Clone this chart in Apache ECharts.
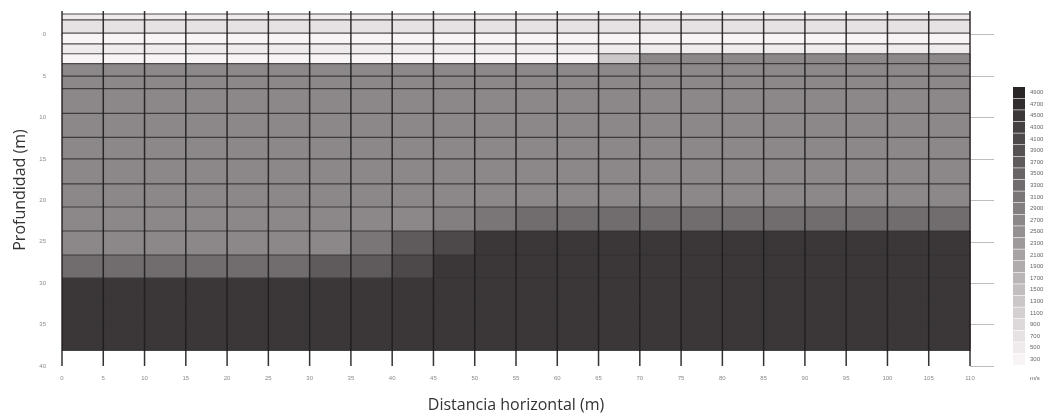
<!DOCTYPE html>
<html>
<head>
<meta charset="utf-8">
<script src="https://cdn.jsdelivr.net/npm/echarts@6/dist/echarts.min.js"></script>
<style>
html,body{margin:0;padding:0;background:#fff;}
#c{width:1057px;height:418px;}
</style>
</head>
<body>
<div id="c"></div>
<script>
// ---- data ----
const xTicks = [0,5,10,15,20,25,30,35,40,45,50,55,60,65,70,75,80,85,90,95,100,105,110];
const depthLines = [-2.5,-1.8,-0.2,1.1,2.3,3.5,5,6.5,9.5,12.4,15,18,20.8,23.7,26.6,29.4,32.3,35.2,38.1];
const yTickValues = [0,5,10,15,20,25,30,35,40];
const velocityClasses = [300,500,700,900,1100,1300,1500,1700,1900,2100,2300,2500,2700,2900,3100,3300,3500,3700,3900,4100,4300,4500,4700,4900];
const depthTop = -2.5, depthBottom = 40;

// velocity (m/s) per model cell, one array per row (top to bottom), 22 columns each
const row01 = [500,500,500,500,500,500,500,500,500,500,500,500,500,500,500,500,500,500,500,500,500,500];
const row02 = [700,700,700,700,700,700,700,700,700,700,700,700,700,700,700,700,700,700,700,700,700,700];
const row03 = [300,300,300,300,300,300,300,300,300,300,300,300,300,300,300,300,300,300,300,300,300,300];
const row04 = [500,500,500,500,500,500,500,500,500,500,500,500,500,500,500,500,500,500,500,500,500,500];
const row05 = [300,300,300,300,300,300,300,300,300,300,300,300,300,1300,2700,2700,2700,2700,2700,2700,2700,2700];
const row06 = [2700,2700,2700,2700,2700,2700,2700,2700,2700,2700,2700,2700,2700,2700,2700,2700,2700,2700,2700,2700,2700,2700];
const row07 = [2700,2700,2700,2700,2700,2700,2700,2700,2700,2700,2700,2700,2700,2700,2700,2700,2700,2700,2700,2700,2700,2700];
const row08 = [2700,2700,2700,2700,2700,2700,2700,2700,2700,2700,2700,2700,2700,2700,2700,2700,2700,2700,2700,2700,2700,2700];
const row09 = [2700,2700,2700,2700,2700,2700,2700,2700,2700,2700,2700,2700,2700,2700,2700,2700,2700,2700,2700,2700,2700,2700];
const row10 = [2700,2700,2700,2700,2700,2700,2700,2700,2700,2700,2700,2700,2700,2700,2700,2700,2700,2700,2700,2700,2700,2700];
const row11 = [2700,2700,2700,2700,2700,2700,2700,2700,2700,2700,2700,2700,2700,2700,2700,2700,2700,2700,2700,2700,2700,2700];
const row12 = [2700,2700,2700,2700,2700,2700,2700,2700,2700,2700,2700,2700,2700,2700,2700,2700,2700,2700,2700,2700,2700,2700];
const row13 = [2700,2700,2700,2700,2700,2700,2700,2700,2700,2900,3100,3300,3300,3300,3300,3300,3300,3300,3300,3300,3300,3300];
const row14 = [2700,2700,2700,2700,2700,2700,2700,3100,3700,4100,4500,4500,4500,4500,4500,4500,4500,4500,4500,4500,4500,4500];
const row15 = [3300,3300,3300,3300,3300,3300,3700,3700,4100,4500,4500,4500,4500,4500,4500,4500,4500,4500,4500,4500,4500,4500];
const row16 = [4500,4500,4500,4500,4500,4500,4500,4500,4500,4500,4500,4500,4500,4500,4500,4500,4500,4500,4500,4500,4500,4500];
const row17 = [4500,4500,4500,4500,4500,4500,4500,4500,4500,4500,4500,4500,4500,4500,4500,4500,4500,4500,4500,4500,4500,4500];
const row18 = [4500,4500,4500,4500,4500,4500,4500,4500,4500,4500,4500,4500,4500,4500,4500,4500,4500,4500,4500,4500,4500,4500];
const velocityRows = [row01,row02,row03,row04,row05,row06,row07,row08,row09,row10,row11,row12,row13,row14,row15,row16,row17,row18];

// ---- build ----
const cells = [];
velocityRows.forEach((row, r) => {
  row.forEach((v, c) => {
    cells.push([xTicks[c], xTicks[c+1], depthLines[r], depthLines[r+1], v]);
  });
});
const hLines = depthLines.map(d => [xTicks[0], xTicks[xTicks.length-1], d]);
const vLines = xTicks.map(x => [x, depthTop, depthBottom]);

function grey(i, n) {
  const L = Math.round(248 - i * (207 / (n - 1)));
  return 'rgb(' + L + ',' + (L - 4) + ',' + (L - 2) + ')';
}
const pieces = velocityClasses.map((v, i) => ({
  min: v - 100, max: v + 100, label: String(v), color: grey(i, velocityClasses.length)
}));

const chart = echarts.init(document.getElementById('c'), null, {renderer: 'canvas'});
chart.setOption({
  animation: false,
  backgroundColor: '#ffffff',
  grid: {left: 62, right: 87, top: 14, bottom: 52},
  xAxis: {
    type: 'value', min: 0, max: 110, interval: 5,
    name: 'Distancia horizontal (m)', nameLocation: 'middle', nameGap: 31,
    nameTextStyle: {fontFamily: 'Open Sans', fontSize: 16, color: '#333'},
    axisLine: {show: true, lineStyle: {color: '#b3b3b3', width: 2}},
    axisTick: {show: false},
    axisLabel: {fontSize: 6, color: '#8a8a8a', margin: 9, fontFamily: 'Liberation Sans'},
    splitLine: {show: false}
  },
  yAxis: [{
    type: 'value', inverse: true, min: depthTop, max: depthBottom,
    name: 'Profundidad (m)', nameLocation: 'middle', nameGap: 31,
    nameTextStyle: {fontFamily: 'Open Sans', fontSize: 16, color: '#333'},
    axisLine: {show: false},
    axisTick: {show: false},
    axisLabel: {fontSize: 6, color: '#8a8a8a', margin: 16, customValues: yTickValues, fontFamily: 'Liberation Sans'},
    splitLine: {show: false}
  }, {
    type: 'value', inverse: true, min: depthTop, max: depthBottom, position: 'right',
    axisLine: {show: false},
    axisTick: {show: true, length: 24, customValues: yTickValues, lineStyle: {color: '#bdbdbd', width: 1}},
    axisLabel: {show: false},
    splitLine: {show: false}
  }],
  visualMap: {
    type: 'piecewise', dimension: 4, seriesIndex: 0,
    pieces: pieces,
    orient: 'vertical', left: 998, top: 72, align: 'left',
    itemWidth: 12, itemHeight: 11, itemGap: 0.6, itemSymbol: 'rect',
    textGap: 5, showLabel: true, selectedMode: false, hoverLink: false,
    textStyle: {fontSize: 6, color: '#666', fontFamily: 'Liberation Sans'}
  },
  graphic: [{
    type: 'text', left: 1030, top: 375,
    style: {text: 'm/s', fontSize: 6, fill: '#666', fontFamily: 'Liberation Sans'}
  }],
  series: [{
    type: 'custom', name: 'velocidad', data: cells,
    encode: {x: [0, 1], y: [2, 3]},
    silent: true,
    renderItem: function (params, api) {
      const p0 = api.coord([api.value(0), api.value(2)]);
      const p1 = api.coord([api.value(1), api.value(3)]);
      return {type: 'rect', shape: {x: p0[0], y: p0[1], width: p1[0] - p0[0] + 0.6, height: p1[1] - p0[1] + 0.6},
        style: {fill: api.visual('color')}};
    }
  }, {
    type: 'custom', name: 'capas', data: hLines,
    encode: {x: [0, 1], y: 2}, silent: true,
    renderItem: function (params, api) {
      const a = api.coord([api.value(0), api.value(2)]);
      const b = api.coord([api.value(1), api.value(2)]);
      return {type: 'line', shape: {x1: a[0], y1: a[1], x2: b[0], y2: b[1]},
        style: {stroke: '#332f30', lineWidth: 1.2, opacity: 0.85}};
    }
  }, {
    type: 'custom', name: 'malla', data: vLines,
    encode: {x: 0, y: [1, 2]}, silent: true,
    renderItem: function (params, api) {
      const a = api.coord([api.value(0), api.value(1)]);
      const b = api.coord([api.value(0), api.value(2)]);
      return {type: 'line', shape: {x1: a[0], y1: a[1] - 3, x2: b[0], y2: b[1]},
        style: {stroke: '#1f1c1d', lineWidth: 1.5, opacity: 0.9}};
    }
  }]
});
</script>
</body>
</html>
